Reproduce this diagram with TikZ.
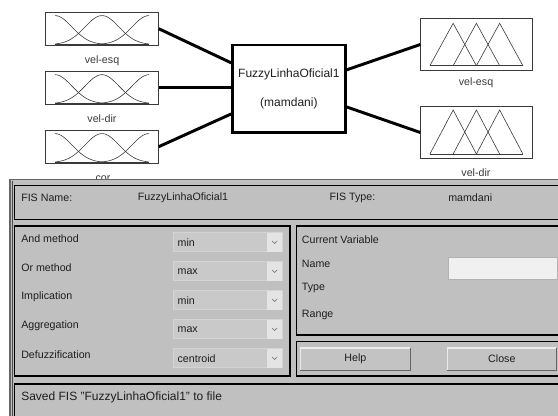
\documentclass[tikz,border=0pt]{standalone}
\usepackage{fontspec}
\setmainfont{Liberation Sans}
\usetikzlibrary{positioning, calc}
\definecolor{panelgray}{HTML}{C0C0C0}
\definecolor{combofill}{HTML}{C9C9C9}
\definecolor{arrowfill}{HTML}{E4E4E4}
\definecolor{fieldfill}{HTML}{F0F0F0}
\definecolor{inktext}{HTML}{1E1E1E}
\definecolor{mfline}{HTML}{3A3A3A}

\begin{document}
\begin{tikzpicture}[x=0.75pt, y=-0.75pt, font=\fontsize{8}{9.6}\selectfont, text=inktext,
    mfbox/.style={draw=mfline, line width=0.6pt, minimum width=84.5pt, minimum height=24.75pt, inner sep=0pt},
    outbox/.style={draw=mfline, line width=0.6pt, minimum width=83.5pt, minimum height=39pt, inner sep=0pt},
    fisbox/.style={draw=black, line width=2.2pt, minimum width=84.2pt, minimum height=65.8pt, align=center,
      font=\fontsize{9}{21.75}\selectfont},
    mf/.style={mfline, line width=0.45pt},
    wire/.style={line width=2.2pt},
    frame/.style={draw=black, line width=0.9pt},
    varlbl/.style={font=\fontsize{8}{9.6}\selectfont, text=mfline},
    lbl/.style={anchor=west, inner sep=0pt},
    combo/.style={anchor=west, fill=combofill, draw=combofill!80!white, line width=0.4pt, minimum height=14.25pt,
      text width=75pt, inner xsep=3.5pt, inner ysep=0pt},
    arrowbox/.style={anchor=east, fill=arrowfill, minimum width=11.5pt, minimum height=14.25pt, inner sep=0pt},
    chev/.style={draw=gray, line width=0.45pt},
    field/.style={fill=fieldfill, draw=gray!60, line width=0.5pt, minimum width=82.3pt, minimum height=16.2pt, inner sep=0pt},
    button/.style={fill=panelgray!95!white, minimum height=16.3pt, inner sep=0pt}]
  \useasboundingbox (0,0) rectangle (558,416);
  \clip (0,0) rectangle (558,416);

  % Input variables
  \node[mfbox] (in1) at (102,28.7) {};
  \node[mfbox] (in2) at (102,87.8) {};
  \node[mfbox] (in3) at (102,146.7) {};
  \begin{scope}[shift={(in1.south)}]
    \draw[mf] (-47,-1) -- (47,-1);
    \draw[mf] plot[domain=-47:47, samples=50] (\x, {-1-29*exp(-((\x+47)*(\x+47))/578)});
    \draw[mf] plot[domain=-47:47, samples=50] (\x, {-1-29*exp(-(\x*\x)/578)});
    \draw[mf] plot[domain=-47:47, samples=50] (\x, {-1-29*exp(-((\x-47)*(\x-47))/578)});
  \end{scope}
  \begin{scope}[shift={(in2.south)}]
    \draw[mf] (-47,-1) -- (47,-1);
    \draw[mf] plot[domain=-47:47, samples=50] (\x, {-1-29*exp(-((\x+47)*(\x+47))/578)});
    \draw[mf] plot[domain=-47:47, samples=50] (\x, {-1-29*exp(-(\x*\x)/578)});
    \draw[mf] plot[domain=-47:47, samples=50] (\x, {-1-29*exp(-((\x-47)*(\x-47))/578)});
  \end{scope}
  \begin{scope}[shift={(in3.south)}]
    \draw[mf] (-47,-1) -- (47,-1);
    \draw[mf] plot[domain=-47:47, samples=50] (\x, {-1-29*exp(-((\x+47)*(\x+47))/578)});
    \draw[mf] plot[domain=-47:47, samples=50] (\x, {-1-29*exp(-(\x*\x)/578)});
    \draw[mf] plot[domain=-47:47, samples=50] (\x, {-1-29*exp(-((\x-47)*(\x-47))/578)});
  \end{scope}
  \node[varlbl] (in1lbl) at (102,61) {vel-esq};
  \node[varlbl] (in2lbl) at (102,119) {vel-dir};
  \node[varlbl, anchor=base] (in3lbl) at (103,181.5) {cor};

  % FIS block
  \node[fisbox] (fis) at (288.9,88.9) {FuzzyLinhaOficial1\\(mamdani)};

  % Output variables
  \node[outbox] (out1) at (476.4,44.5) {};
  \node[outbox] (out2) at (476.4,132.5) {};
  \begin{scope}[shift={(out1.center)}]
    \draw[mf] (-46.5,21.2) -- (46.5,21.2);
    \draw[mf] (-46.5,21.2) -- (-23.25,-21.2) -- (0,21.2);
    \draw[mf] (-23.25,21.2) -- (0,-21.2) -- (23.25,21.2);
    \draw[mf] (0,21.2) -- (23.25,-21.2) -- (46.5,21.2);
  \end{scope}
  \begin{scope}[shift={(out2.center)}]
    \draw[mf] (-46.5,21.5) -- (46.5,21.5);
    \draw[mf] (-46.5,21.5) -- (-23.25,-22.5) -- (0,21.5);
    \draw[mf] (-23.25,21.5) -- (0,-22.5) -- (23.25,21.5);
    \draw[mf] (0,21.5) -- (23.25,-22.5) -- (46.5,21.5);
  \end{scope}
  \node[varlbl] (out1lbl) at (476,83) {vel-esq};
  \node[varlbl] (out2lbl) at (476,173) {vel-dir};

  \draw[wire] (in1.east) -- ($(fis.west)+(0,-26)$);
  \draw[wire] (in2.east) -- (fis.west |- in2.east);
  \draw[wire] (in3.east) -- ($(fis.west)+(0,25)$);
  \draw[wire] ($(fis.east)+(0,-19)$) -- (out1.west);
  \draw[wire] ($(fis.east)+(0,18)$) -- (out2.west);

  % Editor panel
  \fill[panelgray] (10,179.5) rectangle (570,430);
  \draw[gray!80!black, line width=0.9pt] (570,179.5) -- (10,179.5) -- (10,430);
  \draw[black!70, line width=0.6pt] (12.3,181) -- (12.3,430);
  \draw[frame] (14.7,185.3) rectangle (580,219.3);
  \draw[frame] (14.7,226) rectangle (290,376);
  \draw[frame] (296.5,226) rectangle (580,335);
  \draw[frame] (296.5,341.7) rectangle (580,376);
  \draw[frame] (14.7,384) rectangle (580,440);

  \node[lbl] (namelbl) at (21,198) {FIS Name:};
  \node[lbl] (namevalue) at (137.7,198) {FuzzyLinhaOficial1};
  \node[lbl] (typelbl) at (329.3,198) {FIS Type:};
  \node[lbl] (typevalue) at (448,198) {mamdani};

  % Methods
  \node[lbl] (andlbl) at (21,239) {And method};
  \node[combo] (andbox) at (172.7,242.2) {min};
  \node[arrowbox] (andarr) at (andbox.east) {};
  \draw[chev] ($(andarr.center)+(-2.5,-1.2)$) -- ++(2.5,2.5) -- ++(2.5,-2.5);

  \node[lbl] (orlbl) at (21,268) {Or method};
  \node[combo] (orbox) at (172.7,271.2) {max};
  \node[arrowbox] (orarr) at (orbox.east) {};
  \draw[chev] ($(orarr.center)+(-2.5,-1.2)$) -- ++(2.5,2.5) -- ++(2.5,-2.5);

  \node[lbl] (implbl) at (21,297) {Implication};
  \node[combo] (impbox) at (172.7,300.2) {min};
  \node[arrowbox] (imparr) at (impbox.east) {};
  \draw[chev] ($(imparr.center)+(-2.5,-1.2)$) -- ++(2.5,2.5) -- ++(2.5,-2.5);

  \node[lbl] (agglbl) at (21,326) {Aggregation};
  \node[combo] (aggbox) at (172.7,329.2) {max};
  \node[arrowbox] (aggarr) at (aggbox.east) {};
  \draw[chev] ($(aggarr.center)+(-2.5,-1.2)$) -- ++(2.5,2.5) -- ++(2.5,-2.5);

  \node[lbl] (deflbl) at (21,355) {Defuzzification};
  \node[combo] (defbox) at (172.7,358.2) {centroid};
  \node[arrowbox] (defarr) at (defbox.east) {};
  \draw[chev] ($(defarr.center)+(-2.5,-1.2)$) -- ++(2.5,2.5) -- ++(2.5,-2.5);

  % Current variable
  \node[lbl] (curlbl) at (301.7,240) {Current Variable};
  \node[lbl] (varname) at (301.7,264.3) {Name};
  \node[field] (namefield) at (502.85,268.5) {};
  \node[lbl] (vartype) at (301.7,287.7) {Type};
  \node[lbl] (varrange) at (301.7,315) {Range};

  % Buttons
  \node[button, minimum width=82pt] (help) at (355.35,359.15) {Help};
  \node[button, minimum width=81.2pt] (close) at (501.85,359.15) {Close};
  \draw[white!85!gray, line width=0.9pt] (help.south west) |- (help.north east);
  \draw[gray!80!black, line width=0.9pt] (help.south west) -| (help.north east);
  \draw[white!85!gray, line width=0.9pt] (close.south west) |- (close.north east);
  \draw[gray!80!black, line width=0.9pt] (close.south west) -| (close.north east);

  \node[lbl, font=\fontsize{9}{10.8}\selectfont] (status) at (21,397) {Saved FIS "FuzzyLinhaOficial1" to file};
\end{tikzpicture}
\end{document}
